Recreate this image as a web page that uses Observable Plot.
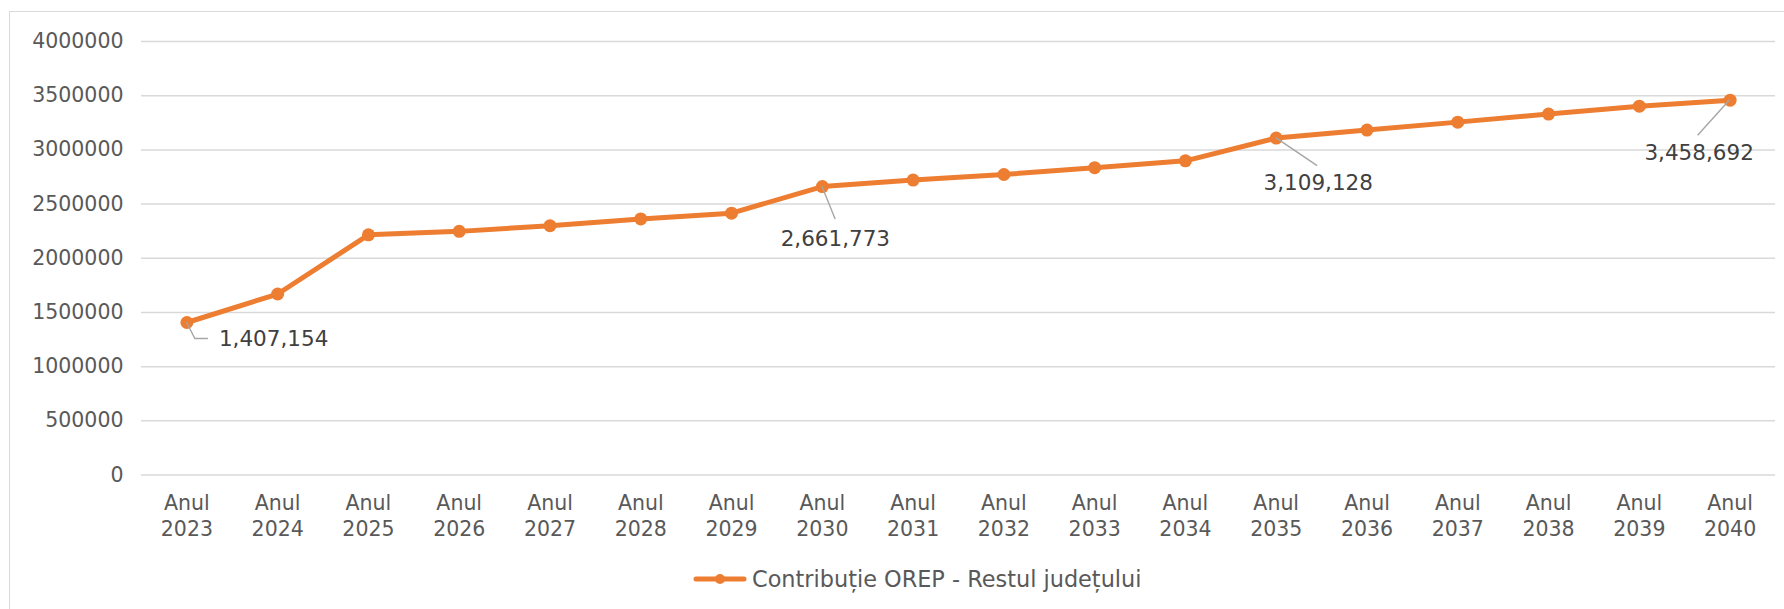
<!DOCTYPE html>
<html>
<head>
<meta charset="utf-8">
<script src="https://cdn.jsdelivr.net/npm/d3@7"></script>
<script src="https://cdn.jsdelivr.net/npm/@observablehq/plot@0.6"></script>
<style>
  html, body { margin: 0; padding: 0; background: #fff; overflow: hidden; width: 1784px; height: 609px; }
  body { font-family: "DejaVu Sans", Verdana, sans-serif; position: relative; }
  #chart { position: absolute; left: 0; top: 0; }
  #frame { position: absolute; left: 9px; top: 11px; width: 1800px; height: 620px;
           border-left: 1.5px solid #d9d9d9; border-top: 1.5px solid #d9d9d9; pointer-events: none; }
  #legend { position: absolute; top: 566px; left: 693px; height: 26px; display: flex; align-items: center;
            font-size: 22.4px; color: #595959; white-space: nowrap; }
  #legend svg { display: block; margin-right: 5px; }
</style>
</head>
<body>
<div id="chart"></div>
<div id="frame"></div>
<div id="legend"></div>
<script>
// ---- data ----
const years = [2023, 2024, 2025, 2026, 2027, 2028, 2029, 2030, 2031, 2032, 2033, 2034, 2035, 2036, 2037, 2038, 2039, 2040];
const values = [1407154, 1670000, 2216000, 2248000, 2300000, 2363000, 2416000, 2661773, 2721000, 2773000, 2836000, 2899000, 3109128, 3183000, 3256000, 3330000, 3403000, 3458692];
const labeledYears = [2023, 2030, 2035, 2040];
const yTicks = [0, 500000, 1000000, 1500000, 2000000, 2500000, 3000000, 3500000, 4000000];
const tickPrefix = "Anul";
const seriesName = "Contribuție OREP - Restul județului";

// ---- styling / annotation layout (pixel offsets) ----
const ORANGE = "#ED7D31";
const FONT = '"DejaVu Sans", Verdana, sans-serif';
const labelLayout = {
  2023: { dx: 32, dy: 17, anchor: "start", leader: [[8.5, 16.5], [21.5, 16.5]] },
  2030: { dx: 13, dy: 53, anchor: "middle", leader: [[13.3, 33]] },
  2035: { dx: 42, dy: 45.5, anchor: "middle", leader: [[41.4, 28]] },
  2040: { dx: -31, dy: 53, anchor: "middle", leader: [[-32, 35.5]] }
};

const data = years.map((year, i) => ({ year, value: values[i] }));
const labeled = data.filter(d => labeledYears.includes(d.year));
const fmt = d3.format(",");

const W = 1784, H = 560;

function leaders(index, scales) {
  const g = d3.create("svg:g").attr("fill", "none").attr("stroke", "#a6a6a6").attr("stroke-width", 1.4);
  for (const d of labeled) {
    const px = scales.x(d.year), py = scales.y(d.value);
    const pts = [[px, py], ...labelLayout[d.year].leader.map(([ox, oy]) => [px + ox, py + oy])];
    g.append("path").attr("d", "M" + pts.map(p => p.join(",")).join("L"));
  }
  return g.node();
}

const plot = Plot.plot({
  width: W,
  height: H,
  marginLeft: 141,
  marginRight: 9,
  marginTop: 41,
  marginBottom: H - 474.5,
  style: { fontFamily: FONT, fontSize: "20.5px", color: "#595959", background: "transparent", overflow: "visible" },
  x: { type: "point", domain: years, padding: 0.5, round: false, label: null },
  y: { domain: [0, 4000000], label: null },
  marks: [
    Plot.gridY(yTicks, { stroke: "#d9d9d9", strokeOpacity: 1, strokeWidth: 1.5 }),
    Plot.axisY(yTicks, { tickSize: 0, tickPadding: 18, tickFormat: d => String(d), fill: "#595959", fontSize: 20.5, label: null }),
    Plot.axisX(years, { tickSize: 0, tickPadding: 16, tickFormat: y => `${tickPrefix}\n${y}`, lineHeight: 1.28, fill: "#595959", fontSize: 20.5, label: null }),
    Plot.line(data, { x: "year", y: "value", stroke: ORANGE, strokeWidth: 5, strokeLinejoin: "round", strokeLinecap: "round" }),
    Plot.dot(data, { x: "year", y: "value", r: 6.5, fill: ORANGE, stroke: "none" }),
    leaders,
    ...labeled.map(d => Plot.text([d], {
      x: "year", y: "value", text: v => fmt(v.value),
      dx: labelLayout[d.year].dx, dy: labelLayout[d.year].dy,
      textAnchor: labelLayout[d.year].anchor,
      fill: "#404040", fontSize: 21.5
    }))
  ]
});
document.getElementById("chart").appendChild(plot);

// legend
const legend = document.getElementById("legend");
const sw = d3.create("svg").attr("width", 54).attr("height", 14);
sw.append("line").attr("x1", 3).attr("x2", 51).attr("y1", 7).attr("y2", 7)
  .attr("stroke", ORANGE).attr("stroke-width", 5).attr("stroke-linecap", "round");
sw.append("circle").attr("cx", 27).attr("cy", 7).attr("r", 5).attr("fill", ORANGE);
legend.appendChild(sw.node());
const span = document.createElement("span");
span.textContent = seriesName;
legend.appendChild(span);
</script>
</body>
</html>
